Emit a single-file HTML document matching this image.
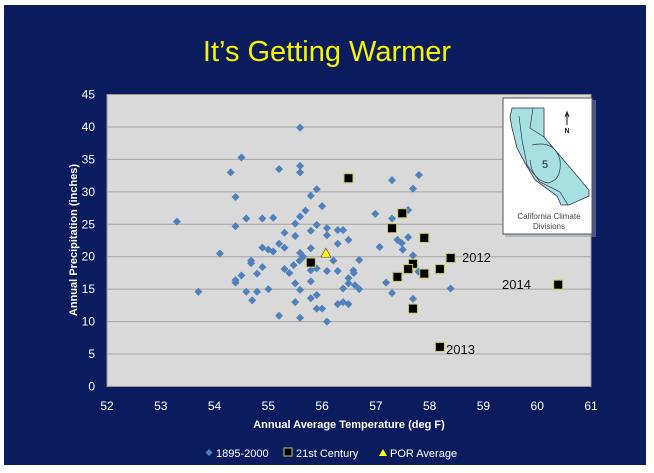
<!DOCTYPE html>
<html><head><meta charset="utf-8"><style>
html,body{margin:0;padding:0;background:#fff;}
svg{display:block;font-family:"Liberation Sans",sans-serif;}
</style></head><body>
<svg id="chart" width="654" height="473" xmlns="http://www.w3.org/2000/svg">
<rect x="4" y="5" width="642" height="460" fill="#0b1c5e"/>
<text x="327" y="61" text-anchor="middle" fill="#f5f500" font-size="29">It’s Getting Warmer</text>
<rect x="107" y="94.5" width="484" height="292" fill="#d9d9d9" stroke="#9a9a9a" stroke-width="1"/>
<g id="grid"></g><g id="yticks"></g><g id="xticks"></g><g id="marks"></g>
<text x="349" y="428" text-anchor="middle" fill="#fff" font-size="11" font-weight="bold">Annual Average Temperature (deg F)</text>
<text transform="translate(77,240) rotate(-90)" text-anchor="middle" fill="#fff" font-size="11" font-weight="bold">Annual Precipitation (inches)</text>
<g>
<g><path d="M209 449 L212.5 452.5 L209 456 L205.5 452.5Z" fill="#4f81bd"/><text x="216" y="457" fill="#fff" font-size="11">1895-2000</text></g>
<g><rect x="284" y="448" width="8" height="8" fill="#000" stroke="#c8c860"/><text x="296" y="457" fill="#fff" font-size="11">21st Century</text></g>
<g><path d="M383 449 L387 456 L379 456Z" fill="#ff0"/><text x="390" y="457" fill="#fff" font-size="11">POR Average</text></g>
</g>
<g>
<rect x="505" y="100" width="91" height="137" fill="#8894b0" opacity="0.5"/>
<rect x="503" y="98" width="89" height="136" fill="#fff" stroke="#555" stroke-width="1"/>
<path d="M512 108 L544 108 L544 137 L589 190 L589 196 L569 205 L561 205 L557 196 L535 180 L525 163 L517 148 L512 128 L510 117Z" fill="#a6e0e0" stroke="#335" stroke-width="0.8"/>
<path d="M533 108 L530 128 L544 137 M519 116 L522 140 L527 165 L540 182 L560 192 L568 205 M532 145 Q555 140 560 160 Q562 180 548 183 Q532 180 530 160" fill="none" stroke="#335" stroke-width="0.7"/>
<text x="545" y="168" text-anchor="middle" font-size="11" fill="#222">5</text>
<path d="M567 125 L567 114 M565 117 L567 112 L569 117" stroke="#111" stroke-width="1" fill="none"/>
<text x="567" y="133" text-anchor="middle" font-size="7" font-weight="bold" fill="#111">N</text>
<text x="549" y="219" text-anchor="middle" font-size="8" fill="#444">California Climate</text>
<text x="549" y="229" text-anchor="middle" font-size="8" fill="#444">Divisions</text>
</g>
<text x="462" y="262" fill="#111" font-size="13">2012</text>
<text x="502" y="289" fill="#111" font-size="13">2014</text>
<text x="446" y="354" fill="#111" font-size="13">2013</text>
</svg>
<script>
const xTicks=[52,53,54,55,56,57,58,59,60,61];
const yTicks=[0,5,10,15,20,25,30,35,40,45];
const histTemp=[55.59,54.50,54.30,55.20,55.59,55.59,55.90,55.79,54.39,56.0,53.30,54.59,54.89,55.09,55.69,55.59,55.50,54.39,55.90,55.30,55.50,55.79,56.09,56.09,56.29,56.39,56.29,56.49,56.99,57.07,54.10,54.89,55.0,55.09,55.20,55.30,55.79,55.59,55.65,55.58,55.47,55.30,55.39,54.68,54.68,54.89,54.79,54.50,54.39,54.39,53.70,54.59,54.79,55.0,54.70,55.50,55.59,55.50,55.79,55.79,55.90,55.90,56.0,55.20,55.59,56.09,55.79,55.90,56.09,56.21,56.29,56.58,56.59,56.49,56.69,56.39,56.49,56.61,56.69,56.29,56.39,56.49,57.30,57.80,57.69,57.30,57.60,57.60,57.40,57.48,57.50,57.69,57.79,57.19,57.30,57.69,58.39];
const histPrecip=[39.9,35.3,33.0,33.5,34.0,33.0,30.4,29.4,29.2,27.8,25.4,25.9,25.9,26.0,27.1,26.2,25.1,24.7,24.9,23.7,23.2,24.0,24.4,23.3,24.1,24.1,22.0,22.6,26.6,21.5,20.5,21.4,21.1,20.8,22.0,21.4,21.3,20.6,20.0,19.4,18.7,18.1,17.5,19.4,19.0,18.4,17.4,17.1,16.0,16.4,14.6,14.6,14.6,15.0,13.3,15.9,14.9,13.0,16.2,13.6,14.1,12.0,12.0,10.9,10.6,10.0,17.9,18.2,17.8,19.4,17.8,17.9,17.5,16.7,19.5,15.1,15.9,15.6,15.0,12.7,13.0,12.7,31.8,32.6,30.5,25.9,27.2,23.0,22.6,22.1,21.1,20.2,17.7,16.0,14.4,13.5,15.1];
const c21Temp=[55.79,56.49,57.49,57.30,57.90,58.39,57.69,57.60,57.90,57.40,58.19,60.39,57.69,58.19];
const c21Precip=[19.1,32.1,26.7,24.4,22.9,19.8,18.9,18.1,17.4,16.9,18.1,15.7,12.0,6.1];
const porTemp=[56.07];
const porPrecip=[20.4];
const NS="http://www.w3.org/2000/svg";
const X0=107,X1=591,Y0=386.5,Y1=94.5;
const sx=v=>X0+(v-52)/(61-52)*(X1-X0);
const sy=v=>Y0-(v-0)/(45-0)*(Y0-Y1);
function mk(tag,attrs,parent){const e=document.createElementNS(NS,tag);for(const k in attrs)e.setAttribute(k,attrs[k]);document.getElementById(parent).appendChild(e);return e;}
yTicks.forEach(t=>{
  if(t>0&&t<45){const g=mk('line',{x1:X0,x2:X1,y1:sy(t),y2:sy(t),stroke:'#a6a6a6','stroke-width':1},'grid');
  
  }
  const l=mk('text',{x:95,y:sy(t)+4,'text-anchor':'end',fill:'#fff','font-size':12},'yticks');
  l.textContent=t;
  
  
});
xTicks.forEach(t=>{
  const l=mk('text',{x:sx(t),y:410,'text-anchor':'middle',fill:'#fff','font-size':12},'xticks');
  l.textContent=t;
  
  
});
histTemp.forEach((t,i)=>{
  const x=sx(t),y=sy(histPrecip[i]),r=4;
  const p=mk('path',{d:`M${x} ${y-r}L${x+r} ${y}L${x} ${y+r}L${x-r} ${y}Z`,fill:'#4f81bd'},'marks');
  
  
});
c21Temp.forEach((t,i)=>{
  const x=sx(t),y=sy(c21Precip[i]);
  const p=mk('rect',{x:x-4.5,y:y-4.5,width:9,height:9,fill:'#000',stroke:'#c8c860','stroke-width':1},'marks');
  
  
});
porTemp.forEach((t,i)=>{
  const x=sx(t),y=sy(porPrecip[i]);
  const p=mk('path',{d:`M${x} ${y-6}L${x+5} ${y+3}L${x-5} ${y+3}Z`,fill:'#ff0',stroke:'#333','stroke-width':0.6},'marks');
  
  
});
</script>
</body></html>
